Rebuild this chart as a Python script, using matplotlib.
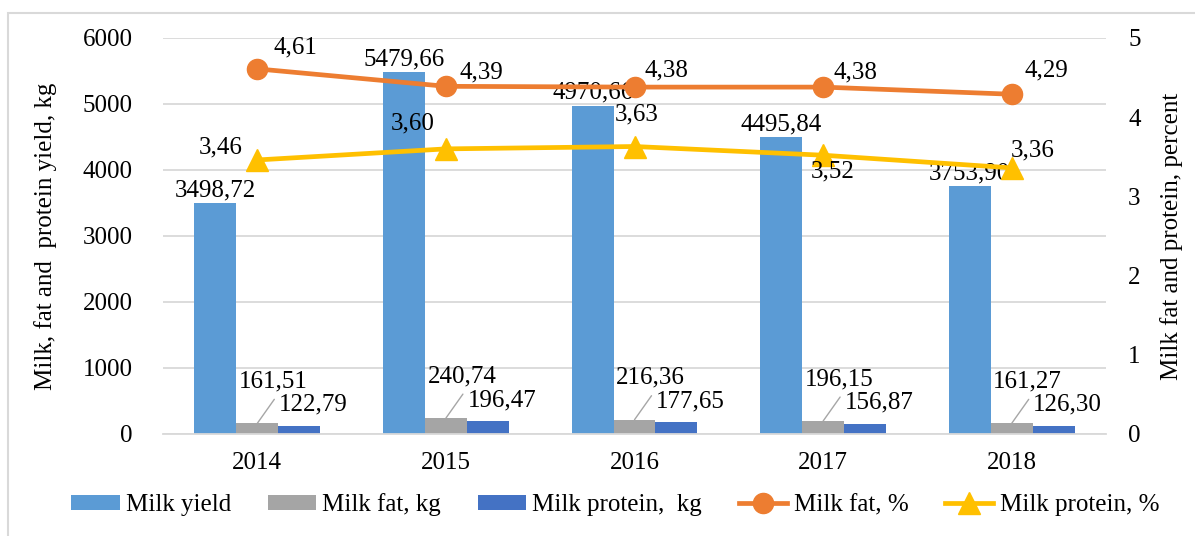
import matplotlib
matplotlib.use("Agg")
import matplotlib.pyplot as plt
from matplotlib.patches import Rectangle
import numpy as np

# Data
years = ["2014", "2015", "2016", "2017", "2018"]
milk_yield = [3498.72, 5479.66, 4970.66, 4495.84, 3753.90]
fat_kg = [161.51, 240.74, 216.36, 196.15, 161.27]
protein_kg = [122.79, 196.47, 177.65, 156.87, 126.30]
fat_pct = [4.61, 4.39, 4.38, 4.38, 4.29]
protein_pct = [3.46, 3.60, 3.63, 3.52, 3.36]

# label offsets (pixels) for the percent series
fat_pct_off = [(38, 21), (35, 14), (32, 17), (32, 15), (35, 24)]
protein_pct_off = [(-37, 13), (-33, 25), (2, 32), (10, -16), (21, 17)]

def fmt(v):
    return f"{v:.2f}".replace(".", ",")

C_YIELD = "#5B9BD5"
C_FATKG = "#A5A5A5"
C_PROTKG = "#4472C4"
C_FATPCT = "#ED7D31"
C_PROTPCT = "#FFC000"
GRID = "#D9D9D9"

plt.rcParams["font.family"] = ["Liberation Serif", "DejaVu Serif"]
FS = 18

W, H = 1195, 536
fig = plt.figure(figsize=(W / 100, H / 100), dpi=100)

# outer frame
fig.patches.append(Rectangle((8 / W, -0.05), 1.2, 1 - 13 / H + 0.05,
                             transform=fig.transFigure, fill=False,
                             edgecolor=GRID, linewidth=1.5))

left, right, top, bottom = 163, 1106, 38, 434
ax = fig.add_axes([left / W, 1 - bottom / H, (right - left) / W, (bottom - top) / H])
ax2 = ax.twinx()

x = np.arange(len(years))
bw = 0.222

b1 = ax.bar(x - bw, milk_yield, bw, color=C_YIELD, label="Milk yield", zorder=2)
b2 = ax.bar(x, fat_kg, bw, color=C_FATKG, label="Milk fat, kg", zorder=2)
b3 = ax.bar(x + bw, protein_kg, bw, color=C_PROTKG, label="Milk protein,  kg", zorder=2)

ax.set_ylim(0, 6000)
ax.set_xlim(-0.5, len(years) - 0.5)
ax.set_yticks(range(0, 6001, 1000))
ax.set_xticks(x)
ax.set_xticklabels(years)
ax.grid(axis="y", color=GRID, linewidth=1.3, zorder=0)
ax.set_axisbelow(True)
for s in ["top", "right", "left"]:
    ax.spines[s].set_visible(False)
ax.spines["bottom"].set_color(GRID)
ax.spines["bottom"].set_linewidth(1.3)
ax.tick_params(axis="both", length=0, labelsize=FS)
ax.tick_params(axis="x", pad=13)
ax.tick_params(axis="y", pad=22)
ax.set_ylabel("Milk, fat and  protein yield, kg", fontsize=FS, labelpad=18)

l1, = ax2.plot(x, fat_pct, color=C_FATPCT, linewidth=3.4, marker="o",
               markersize=14.5, label="Milk fat, %", zorder=3)
l2, = ax2.plot(x, protein_pct, color=C_PROTPCT, linewidth=3.4, marker="^",
               markersize=15.5, label="Milk protein, %", zorder=3)
ax2.set_ylim(0, 5)
ax2.set_yticks(range(0, 6))
for s in ["top", "right", "left", "bottom"]:
    ax2.spines[s].set_visible(False)
ax2.tick_params(axis="y", length=0, labelsize=FS, pad=16)
ax2.set_ylabel("Milk fat and protein, percent", fontsize=FS, labelpad=14)

# bar value labels
for xi, v in zip(x, milk_yield):
    ax.annotate(fmt(v), (xi - bw, v), xytext=(0, 2), textcoords="offset pixels",
                ha="center", va="bottom", fontsize=FS, zorder=4)
for xi, v in zip(x, fat_kg):
    ax.annotate(fmt(v), (xi, v), xytext=(16, 42), textcoords="offset pixels",
                ha="center", va="center", fontsize=FS, zorder=4)
    ax.annotate("", (xi, v), xytext=(17, 24), textcoords="offset pixels",
                arrowprops=dict(arrowstyle="-", color="#A6A6A6", linewidth=1,
                                shrinkA=0, shrinkB=0))
for xi, v in zip(x, protein_kg):
    ax.annotate(fmt(v), (xi + bw, v), xytext=(14, 21), textcoords="offset pixels",
                ha="center", va="center", fontsize=FS, zorder=4)

# line value labels
for xi, v, off in zip(x, fat_pct, fat_pct_off):
    ax2.annotate(fmt(v), (xi, v), xytext=off, textcoords="offset pixels",
                 ha="center", va="center", fontsize=FS, zorder=5)
for xi, v, off in zip(x, protein_pct, protein_pct_off):
    ax2.annotate(fmt(v), (xi, v), xytext=off, textcoords="offset pixels",
                 ha="center", va="center", fontsize=FS, zorder=5)

fig.legend(handles=[b1, b2, b3, l1, l2], loc="center", ncol=5,
           bbox_to_anchor=(615 / W, 1 - 505 / H), frameon=False, fontsize=FS,
           handlelength=1.95, handleheight=0.5, handletextpad=0.25,
           columnspacing=1.45, borderaxespad=0)

fig.savefig("out.png", dpi=100)
